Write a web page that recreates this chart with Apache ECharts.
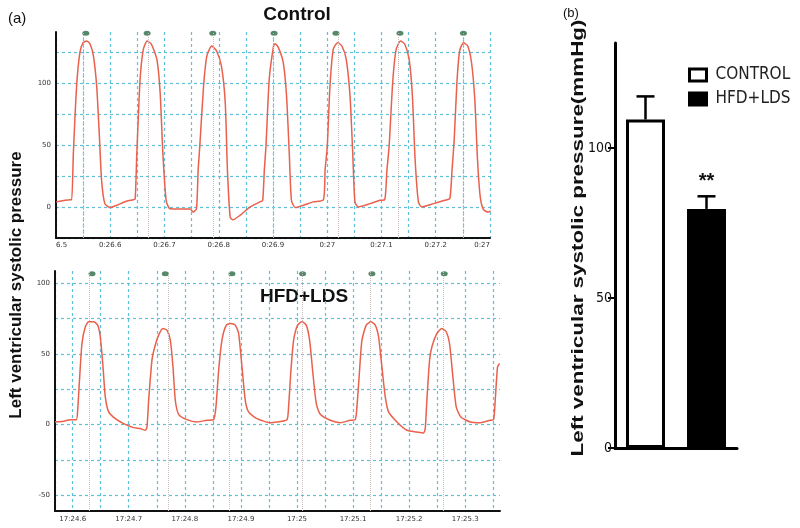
<!DOCTYPE html>
<html><head><meta charset="utf-8">
<script src="https://cdn.jsdelivr.net/npm/echarts@6/dist/echarts.min.js"></script>
<style>html,body{margin:0;padding:0;background:#fff}#c{width:800px;height:528px}</style>
</head><body><div id="c"></div>
<script>
// ---- Panel (a) top: Control trace (time s, pressure mmHg)
const ctrlTime = [26.500, 26.526, 26.529, 26.532, 26.538, 26.544, 26.550, 26.557, 26.563, 26.569, 26.575, 26.580, 26.584, 26.590, 26.600, 26.612, 26.630, 26.643,
26.646, 26.649, 26.655, 26.661, 26.668, 26.676, 26.686, 26.692, 26.697, 26.703, 26.710, 26.729, 26.747, 26.753, 26.759,
26.762, 26.765, 26.772, 26.778, 26.787, 26.796, 26.805, 26.812, 26.816, 26.821, 26.826, 26.839, 26.858, 26.876, 26.881,
26.884, 26.887, 26.893, 26.901, 26.904, 26.910, 26.919, 26.925, 26.930, 26.934, 26.941, 26.956, 26.974, 26.993,
26.996, 27.000, 27.005, 27.011, 27.019, 27.027, 27.035, 27.042, 27.047, 27.051, 27.057, 27.079, 27.097, 27.106,
27.110, 27.114, 27.121, 27.127, 27.135, 27.143, 27.151, 27.157, 27.162, 27.168, 27.174, 27.196, 27.217, 27.226,
27.230, 27.234, 27.239, 27.244, 27.251, 27.259, 27.266, 27.272, 27.277, 27.282, 27.288, 27.297, 27.301];
const ctrlPressure = [4.1, 5.9, 5.9, 43.2, 97.3, 124.3, 132.4, 133.8, 131.1, 121.6, 97.3, 56.8, 21.6, 2.7, -0.5, 1.4, 4.6, 5.9,
6.5, 43.2, 102.7, 127, 133.8, 131.1, 118.9, 91.9, 43.2, 5.4, -1.4, -1.6, -1.6, -4.1, -1.4,
29.7, 48.6, 97.3, 121.6, 129.7, 125.7, 113.5, 83.8, 29.7, -8.1, -10.3, -6.8, 0, 4.1, 5.4,
29.7, 48.6, 102.7, 129.7, 131.6, 128.4, 116.2, 89.2, 43.2, 5.4, -0.5, 1.4, 4.1, 5.9,
29.7, 48.6, 97.3, 127, 132.4, 129.7, 118.9, 89.2, 43.2, 4.1, 0, 2.7, 5.4, 5.9,
29.7, 48.6, 102.7, 127, 133.8, 131.1, 118.9, 89.2, 37.8, 4.1, 0, 2.7, 5.4, 6.8,
29.7, 54.1, 100, 125.7, 132.4, 129.7, 116.2, 86.5, 37.8, 8.1, -2.2, -4.1, -3.2];
const ctrlMarkers = [26.555, 26.668, 26.789, 26.902, 27.016, 27.134, 27.251];
const ctrlTickValues = [26.5, 26.6, 26.7, 26.8, 26.9, 27.0, 27.1, 27.2, 27.3];
const ctrlTickLabels = ['6.5', '0:26.6', '0:26.7', '0:26.8', '0:26.9', '0:27', '0:27.1', '0:27.2', '0:27'];

// ---- Panel (a) bottom: HFD+LDS trace
const hfdTime = [24.5685, 24.5840, 24.5958, 24.6065, 24.6089, 24.6125, 24.6166, 24.6226, 24.6285, 24.6374, 24.6446, 24.6493, 24.6541, 24.6582, 24.6642, 24.6761, 24.6909, 24.7087, 24.7206, 24.7295, 24.7325,
24.7355, 24.7414, 24.7456, 24.7533, 24.7610, 24.7682, 24.7741, 24.7789, 24.7830, 24.7890, 24.8038, 24.8216, 24.8395, 24.8513,
24.8555, 24.8603, 24.8662, 24.8739, 24.8823, 24.8900, 24.8959, 24.9019, 24.9078, 24.9137, 24.9286, 24.9524, 24.9642, 24.9821,
24.9850, 24.9892, 24.9940, 25.0011, 25.0088, 25.0165, 25.0225, 25.0284, 25.0344, 25.0415, 25.0593, 25.0772, 25.0950, 25.1039,
25.1069, 25.1116, 25.1158, 25.1235, 25.1318, 25.1395, 25.1455, 25.1514, 25.1574, 25.1633, 25.1782, 25.1960, 25.2138, 25.2257, 25.2287,
25.2316, 25.2364, 25.2406, 25.2495, 25.2584, 25.2661, 25.2720, 25.2780, 25.2839, 25.2922, 25.3089, 25.3267, 25.3445, 25.3505,
25.3535, 25.3576, 25.3612];
const hfdPressure = [1.9, 2.4, 3.5, 3.5, 10, 33.7, 57.3, 69.1, 72.6, 72.6, 70.3, 62, 40.8, 19.6, 9, 4.2, 0.7, -2.1, -2.8, -4, -1.7,
17.2, 45.5, 53.8, 63.2, 67.9, 66.7, 59.7, 40.8, 17.2, 7.3, 3.5, 1.9, 3.1, 3.5,
12.5, 38.4, 59.7, 70.3, 71.5, 70.3, 64.4, 40.8, 17.2, 9, 4.2, 1.4, 1.9, 3.5,
12.5, 38.4, 59.7, 70.3, 72.6, 70.3, 59.7, 36.1, 14.9, 7.3, 3.1, 1.4, 3.1, 3.5,
12.5, 38.4, 59.7, 70.3, 72.6, 70.3, 62, 40.8, 19.6, 9, 1.9, -4, -5.2, -5.9, -2.8,
17.2, 45.5, 55, 64.4, 67.9, 65.6, 57.3, 33.7, 12.5, 5.4, 1.9, 1.4, 3.1, 3.5,
17.2, 40.8, 43.2];
const hfdMarkers = [24.6345, 24.7652, 24.8840, 25.0100, 25.1336, 25.2626];
const hfdTickValues = [24.6, 24.7, 24.8, 24.9, 25.0, 25.1, 25.2, 25.3];
const hfdTickLabels = ['17:24.6', '17:24.7', '17:24.8', '17:24.9', '17:25', '17:25.1', '17:25.2', '17:25.3'];

// ---- Panel (b): bar chart
const groups = ['CONTROL', 'HFD+LDS'];
const means = [109.5, 79.7];
const sems = [7.7, 4.2];
const sig = ['', '**'];
const barTicks = [0, 50, 100];

function labelFor(values, labels) {
  return function (v) {
    for (let i = 0; i < values.length; i++) if (Math.abs(v - values[i]) < 1e-6) return labels[i];
    return '';
  };
}
function hasFont(name) {
  const ctx = document.createElement('canvas').getContext('2d');
  const t = 'CONTROL HFD+LDS 0123456789';
  ctx.font = '20px monospace';
  const a = ctx.measureText(t).width;
  ctx.font = "20px '" + name + "', monospace";
  return Math.abs(ctx.measureText(t).width - a) > 0.5;
}
let narrowFont = 'Liberation Sans', legendSize = 15, barLabelSize = 13;
if (hasFont('Liberation Sans Narrow')) { narrowFont = 'Liberation Sans Narrow'; legendSize = 18; barLabelSize = 15; }
else if (hasFont('DejaVu Sans Condensed')) { narrowFont = 'DejaVu Sans Condensed'; legendSize = 17; barLabelSize = 14; }

const gridColor = '#5fc0da';
const traceColor = '#e9604c';
const tickFont = { fontSize: 7, color: '#333', fontFamily: 'DejaVu Sans' };
const sl = { show: true, showMaxLine: false, lineStyle: { color: gridColor, type: [3, 3], width: 1.2 } };
const axLine = { show: true, onZero: false, lineStyle: { color: '#111', width: 2 } };

const chart = echarts.init(document.getElementById('c'));
chart.setOption({
  animation: false,
  backgroundColor: '#fff',
  grid: [
    { left: 56, top: 32, width: 434, height: 206 },
    { left: 55, top: 271, width: 445, height: 240 },
    { left: 615, top: 43, width: 122, height: 405 }
  ],
  xAxis: [
    { type: 'value', gridIndex: 0, min: 26.5, max: 27.3, interval: 0.05,
      axisLine: axLine, axisTick: { show: false }, splitLine: Object.assign({}, sl, { showMaxLine: true }),
      axisLabel: Object.assign({ formatter: labelFor(ctrlTickValues, ctrlTickLabels), margin: 4,
        alignMinLabel: 'left', alignMaxLabel: 'right' }, tickFont) },
    { type: 'value', gridIndex: 1, min: 24.5685, max: 25.362, splitNumber: 16, minInterval: 0.05, maxInterval: 0.05,
      axisLine: axLine, axisTick: { show: false }, splitLine: sl,
      axisLabel: Object.assign({ formatter: labelFor(hfdTickValues, hfdTickLabels), margin: 5 }, tickFont) },
    { type: 'category', gridIndex: 2, data: groups,
      axisLine: { lineStyle: { color: '#000', width: 3 } },
      axisTick: { alignWithLabel: true, length: 10, lineStyle: { color: '#000', width: 2 } },
      axisLabel: { show: false } }
  ],
  yAxis: [
    { type: 'value', gridIndex: 0, min: -25, max: 141, interval: 25,
      axisLine: axLine, axisTick: { show: false }, splitLine: sl,
      axisLabel: Object.assign({ formatter: v => (Math.abs(v % 50) < 1e-6 ? String(v) : ''), margin: 5 }, tickFont) },
    { type: 'value', gridIndex: 1, min: -61, max: 108.5, splitNumber: 7, minInterval: 25, maxInterval: 25,
      axisLine: axLine, axisTick: { show: false }, splitLine: Object.assign({}, sl, { showMinLine: false }),
      axisLabel: Object.assign({ formatter: v => (Math.abs(v % 50) < 1e-6 ? String(v) : ''), margin: 5 }, tickFont) },
    { type: 'value', gridIndex: 2, min: 0, max: 135,
      axisLine: { show: true, lineStyle: { color: '#000', width: 3 } },
      axisTick: { show: true, length: 7, customValues: barTicks, lineStyle: { color: '#000', width: 2 } },
      splitLine: { show: false },
      axisLabel: { customValues: barTicks, margin: 3, fontSize: barLabelSize, color: '#111', fontFamily: narrowFont } }
  ],
  legend: {
    left: 688, top: 66, orient: 'vertical', itemWidth: 17, itemHeight: 12, itemGap: 6, padding: 0,
    icon: 'rect',
    textStyle: { fontSize: legendSize, lineHeight: 18, color: '#222', fontFamily: narrowFont, padding: [0, 0, 0, 4] },
    data: [
      { name: groups[0], itemStyle: { color: '#fff', borderColor: '#000', borderWidth: 3 } },
      { name: groups[1], itemStyle: { color: '#000', borderColor: '#000', borderWidth: 3 } }
    ]
  },
  graphic: [
    { type: 'text', x: 8, y: 19, style: { text: '(a)', font: '15px Liberation Sans', fill: '#111', align: 'left', verticalAlign: 'middle' } },
    { type: 'text', x: 563, y: 13, style: { text: '(b)', font: '13px Liberation Sans', fill: '#111', align: 'left', verticalAlign: 'middle' } },
    { type: 'text', x: 297, y: 15, style: { text: 'Control', font: 'bold 19px Liberation Sans', fill: '#111', align: 'center', verticalAlign: 'middle' } },
    { type: 'text', x: 304, y: 297, style: { text: 'HFD+LDS', font: 'bold 19px Liberation Sans', fill: '#111', align: 'center', verticalAlign: 'middle' } },
    { type: 'text', x: 16, y: 285, rotation: Math.PI / 2, style: { text: 'Left ventricular systolic pressure', font: 'bold 17px Liberation Sans', fill: '#111', align: 'center', verticalAlign: 'middle' } },
    { type: 'text', x: 579, y: 238, rotation: Math.PI / 2, scaleX: 1.4, style: { text: 'Left ventricular systolic pressure(mmHg)', font: 'bold 16px Liberation Sans', fill: '#111', align: 'center', verticalAlign: 'middle' } }
  ],
  series: [
    { type: 'scatter', xAxisIndex: 0, yAxisIndex: 0, data: ctrlMarkers.map(t => [t, 140]), symbol: 'circle', symbolSize: [7, 5],
      itemStyle: { color: '#2a6b44' }, z: 2,
      markLine: { silent: true, symbol: 'none', label: { show: false }, lineStyle: { color: '#cbbcbc', type: 'dotted', width: 1 },
        data: ctrlMarkers.map(t => ({ xAxis: t })) } },
    { type: 'scatter', xAxisIndex: 1, yAxisIndex: 1, data: hfdMarkers.map(t => [t, 106.5]), symbol: 'circle', symbolSize: [7, 5],
      itemStyle: { color: '#2a6b44' }, z: 2,
      markLine: { silent: true, symbol: 'none', label: { show: false }, lineStyle: { color: '#cbbcbc', type: 'dotted', width: 1 },
        data: hfdMarkers.map(t => ({ xAxis: t })) } },
    { type: 'line', name: 'Control', xAxisIndex: 0, yAxisIndex: 0, data: ctrlTime.map((t, i) => [t, ctrlPressure[i]]),
      showSymbol: false, smooth: 0.2, lineStyle: { color: traceColor, width: 1.5 }, z: 3 },
    { type: 'line', name: 'HFD+LDS trace', xAxisIndex: 1, yAxisIndex: 1, data: hfdTime.map((t, i) => [t, hfdPressure[i]]),
      showSymbol: false, smooth: 0.2, lineStyle: { color: traceColor, width: 1.5 }, z: 3 },
    { type: 'bar', name: groups[0], xAxisIndex: 2, yAxisIndex: 2, data: [means[0], '-'], barWidth: 39, barGap: '-100%',
      itemStyle: { color: '#fff', borderColor: '#000', borderWidth: 3 } },
    { type: 'bar', name: groups[1], xAxisIndex: 2, yAxisIndex: 2, data: ['-', means[1]], barWidth: 39, barGap: '-100%',
      itemStyle: { color: '#000', borderColor: '#000', borderWidth: 3 } },
    { type: 'custom', name: 'sem', xAxisIndex: 2, yAxisIndex: 2, z: 5,
      data: means.map((m, i) => [i, m, sems[i]]),
      renderItem: function (params, api) {
        const idx = api.value(0), m = api.value(1), e = api.value(2);
        const base = api.coord([idx, m]);
        const top = api.coord([idx, m + e]);
        const cap = 18;
        const children = [
          { type: 'line', shape: { x1: base[0], y1: base[1], x2: top[0], y2: top[1] }, style: { stroke: '#000', lineWidth: 2.5 } },
          { type: 'line', shape: { x1: top[0] - cap / 2, y1: top[1], x2: top[0] + cap / 2, y2: top[1] }, style: { stroke: '#000', lineWidth: 2.5 } }
        ];
        const s = sig[params.dataIndex];
        if (s) children.push({ type: 'text', x: top[0], y: top[1] - 15, style: { text: s, font: 'bold 20px Liberation Sans', fill: '#111', align: 'center', verticalAlign: 'middle' } });
        return { type: 'group', children: children };
      } }
  ]
});
</script>
</body></html>
